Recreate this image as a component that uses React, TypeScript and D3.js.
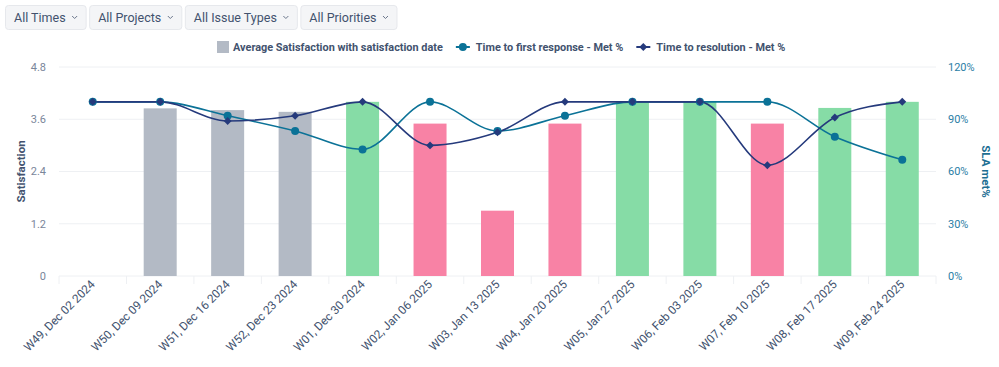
import { useEffect, useRef } from "react";
import * as d3 from "d3";

const weeks = [
  "W49, Dec 02 2024",
  "W50, Dec 09 2024",
  "W51, Dec 16 2024",
  "W52, Dec 23 2024",
  "W01, Dec 30 2024",
  "W02, Jan 06 2025",
  "W03, Jan 13 2025",
  "W04, Jan 20 2025",
  "W05, Jan 27 2025",
  "W06, Feb 03 2025",
  "W07, Feb 10 2025",
  "W08, Feb 17 2025",
  "W09, Feb 24 2025",
];
// null = no satisfaction rating that week
const satisfaction = [null, 3.85, 3.81, 3.77, 4.0, 3.5, 1.5, 3.5, 4.0, 4.0, 3.5, 3.86, 4.0];
// grey = old rating period, green = good, pink = low
const barKind = ["grey", "grey", "grey", "grey", "green", "pink", "pink", "pink", "green", "green", "pink", "green", "green"];
const firstResponse = [100, 100, 92, 83.3, 72.7, 100, 83.3, 92, 100, 100, 100, 80, 66.7];
const resolution = [100, 100, 89, 92, 100, 75, 82.5, 100, 100, 100, 63.6, 91, 100];
const satTicks = [0, 1.2, 2.4, 3.6, 4.8];
const slaTicks = [0, 30, 60, 90, 120];
const filters = ["All Times", "All Projects", "All Issue Types", "All Priorities"];
const legendNames = [
  "Average Satisfaction with satisfaction date",
  "Time to first response - Met %",
  "Time to resolution - Met %",
];

const barColors: Record<string, string> = { grey: "#b3bac5", green: "#86dca6", pink: "#f882a5" };
const teal = "#0b7297";
const navy = "#253a7c";
const textCol = "#42526e";
const font = "Roboto, 'Noto Sans', sans-serif";

const App = () => {
  const ref = useRef<SVGSVGElement>(null);
  const width = 999;
  const height = 367;
  const margin = { top: 67, right: 63, bottom: 91, left: 59 };

  useEffect(() => {
    const svg = d3.select(ref.current);
    svg.selectAll("*").remove();
    svg.attr("font-family", font);

    const x = d3
      .scaleBand()
      .domain(weeks)
      .range([margin.left, width - margin.right]);
    const ySat = d3.scaleLinear().domain([0, 4.8]).range([height - margin.bottom, margin.top]);
    const ySla = d3.scaleLinear().domain([0, 120]).range([height - margin.bottom, margin.top]);

    // filter buttons
    const btns = svg.append("g");
    let bx = 5;
    filters.forEach((f) => {
      const g = btns.append("g").attr("transform", `translate(${bx},5)`);
      const t = g
        .append("text")
        .attr("x", 9)
        .attr("y", 16.5)
        .attr("font-size", 12.5)
        .attr("fill", textCol)
        .text(f);
      const tw = (t.node() as SVGTextElement).getComputedTextLength();
      const w = tw + 29;
      g.insert("rect", "text")
        .attr("x", 0.5)
        .attr("y", 0.5)
        .attr("width", w)
        .attr("height", 24)
        .attr("rx", 3)
        .attr("fill", "#f4f5f7")
        .attr("stroke", "#e6e8ec");
      g.append("path")
        .attr("d", `M${tw + 15.5},11 l2.5,2.5 l2.5,-2.5`)
        .attr("fill", "none")
        .attr("stroke", "#6b778c")
        .attr("stroke-width", 1);
      bx += w + 3.5;
    });

    // gridlines
    svg
      .append("g")
      .selectAll("line")
      .data(satTicks)
      .join("line")
      .attr("x1", margin.left)
      .attr("x2", width - margin.right)
      .attr("y1", (d) => ySat(d))
      .attr("y2", (d) => ySat(d))
      .attr("stroke", "#eef0f3");

    // x tick marks
    svg
      .append("g")
      .selectAll("line")
      .data(weeks.concat(["end"]))
      .join("line")
      .attr("x1", (d, i) => margin.left + i * x.step())
      .attr("x2", (d, i) => margin.left + i * x.step())
      .attr("y1", ySat(0))
      .attr("y2", ySat(0) + 8)
      .attr("stroke", "#eef0f3");

    // left axis
    svg
      .append("g")
      .selectAll("text")
      .data(satTicks)
      .join("text")
      .attr("x", 46)
      .attr("y", (d) => ySat(d))
      .attr("dy", "0.35em")
      .attr("text-anchor", "end")
      .attr("font-size", 11)
      .attr("fill", "#7a869a")
      .text((d) => (d === 0 ? "0" : d3.format(".1f")(d)));
    svg
      .append("text")
      .attr("transform", `translate(25,${(ySat(0) + ySat(4.8)) / 2}) rotate(-90)`)
      .attr("text-anchor", "middle")
      .attr("font-size", 11.5)
      .attr("font-weight", "bold")
      .attr("fill", textCol)
      .text("Satisfaction");

    // right axis
    svg
      .append("g")
      .selectAll("text")
      .data(slaTicks)
      .join("text")
      .attr("x", 948)
      .attr("y", (d) => ySla(d))
      .attr("dy", "0.35em")
      .attr("font-size", 11)
      .attr("fill", "#2b7ea6")
      .text((d) => `${d}%`);
    svg
      .append("text")
      .attr("transform", `translate(982,${(ySla(0) + ySla(120)) / 2}) rotate(90)`)
      .attr("text-anchor", "middle")
      .attr("font-size", 11.5)
      .attr("font-weight", "bold")
      .attr("fill", "#1d6f93")
      .text("SLA met%");

    // x labels
    svg
      .append("g")
      .selectAll("text")
      .data(weeks)
      .join("text")
      .attr("transform", (d) => `translate(${x(d)! + x.bandwidth() / 2 + 3},${ySat(0) + 9}) rotate(-45)`)
      .attr("text-anchor", "end")
      .attr("font-size", 11.8)
      .attr("fill", textCol)
      .text((d) => d);

    // bars
    const bw = 33;
    svg
      .append("g")
      .selectAll("rect")
      .data(weeks.map((w, i) => ({ w, v: satisfaction[i], k: barKind[i] })).filter((d) => d.v != null))
      .join("rect")
      .attr("x", (d) => x(d.w)! + x.bandwidth() / 2 - bw / 2)
      .attr("width", bw)
      .attr("y", (d) => ySat(d.v as number))
      .attr("height", (d) => ySat(0) - ySat(d.v as number))
      .attr("fill", (d) => barColors[d.k]);

    const cx = (i: number) => x(weeks[i])! + x.bandwidth() / 2;
    const line = d3
      .line<number>()
      .x((d, i) => cx(i))
      .y((d) => ySla(d))
      .curve(d3.curveMonotoneX);

    svg.append("path").attr("d", line(firstResponse)).attr("fill", "none").attr("stroke", teal).attr("stroke-width", 1.6);
    svg.append("path").attr("d", line(resolution)).attr("fill", "none").attr("stroke", navy).attr("stroke-width", 1.6);

    svg
      .append("g")
      .selectAll("circle")
      .data(firstResponse)
      .join("circle")
      .attr("cx", (d, i) => cx(i))
      .attr("cy", (d) => ySla(d))
      .attr("r", 4)
      .attr("fill", teal);

    const diamond = d3.symbol().type(d3.symbolDiamond2).size(40);
    svg
      .append("g")
      .selectAll("path")
      .data(resolution)
      .join("path")
      .attr("transform", (d, i) => `translate(${cx(i)},${ySla(d)})`)
      .attr("d", diamond)
      .attr("fill", navy);

    // legend, laid out left to right
    const lg = svg.append("g").attr("font-size", 10.9).attr("font-weight", "bold").attr("fill", textCol);
    let lx = 217;
    legendNames.forEach((name, i) => {
      if (i === 0) {
        lg.append("rect").attr("x", lx).attr("y", 41).attr("width", 12).attr("height", 12).attr("fill", barColors.grey);
      } else {
        const c = i === 1 ? teal : navy;
        lg.append("line").attr("x1", lx).attr("x2", lx + 14).attr("y1", 47).attr("y2", 47).attr("stroke", c).attr("stroke-width", 2);
        if (i === 1) lg.append("circle").attr("cx", lx + 7).attr("cy", 47).attr("r", 4).attr("fill", c);
        else lg.append("path").attr("transform", `translate(${lx + 7},47)`).attr("d", diamond).attr("fill", c);
      }
      const t = lg.append("text").attr("x", lx + (i === 0 ? 16 : 20)).attr("y", 51).text(name);
      lx += (i === 0 ? 16 : 20) + (t.node() as SVGTextElement).getComputedTextLength() + 13;
    });
  }, []);

  return (
    <svg
      ref={ref}
      width={width}
      height={height}
      style={{ position: "absolute", left: 0, top: 0, display: "block" }}
    />
  );
};

export default App;
